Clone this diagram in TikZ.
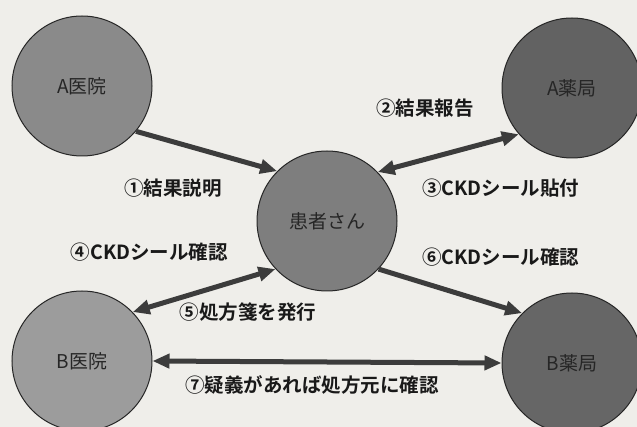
\documentclass[tikz,border=0pt]{standalone}
\usepackage{fontspec}
\setmainfont{Noto Sans CJK JP}
\newfontfamily\jpb{Noto Sans CJK JP Bold}
\usetikzlibrary{arrows.meta}
\definecolor{bgc}{HTML}{EFEEEA}
\definecolor{arrc}{HTML}{3C3C3C}
\definecolor{cAi}{HTML}{8A8A8A}
\definecolor{cAy}{HTML}{626262}
\definecolor{cPt}{HTML}{7E7E7E}
\definecolor{cBi}{HTML}{9C9C9C}
\definecolor{cBy}{HTML}{666666}
\tikzset{
  org/.style={circle,draw=black!85,line width=1pt,inner sep=0pt,minimum size=140pt,font=\fontsize{19}{19}\selectfont,text=black!85},
  conn/.style={draw=arrc,line width=5pt},
  tip/.style={-{Triangle[length=17pt,width=14pt]}},
  tips/.style={{Triangle[length=17pt,width=14pt]}-{Triangle[length=17pt,width=14pt]}},
  lab/.style={font=\jpb\fontsize{19.5}{19.5}\selectfont,text=black!90,inner sep=0pt}
}
\begin{document}
\begin{tikzpicture}[x=1pt,y=-1pt]
\fill[bgc] (0,0) rectangle (637,427);
\useasboundingbox (0,0) rectangle (637,427);
\node[org,fill=cAi] (ai) at (82,86) {A医院};
\node[org,fill=cAy] (ay) at (572,88) {A薬局};
\node[org,fill=cPt] (pt) at (327,221) {患者さん};
\node[org,fill=cBi] (bi) at (82,361) {B医院};
\node[org,fill=cBy] (by) at (572,363) {B薬局};
\draw[conn,tip] (ai.-40) -- (pt.135);
\draw[conn,tips] (pt.44) -- (ay.221);
\draw[conn,tips] (bi.44) -- (pt.223);
\draw[conn,tip] (pt.-43) -- (by.135);
\draw[conn,tips] (bi.east) -- (by.west);
\node[lab] (l1) at (173,188) {①結果説明};
\node[lab] (l2) at (425,108) {②結果報告};
\node[lab,anchor=west] (l3) at (422,188) {③CKDシール貼付};
\node[lab,anchor=east] (l4) at (228,252) {④CKDシール確認};
\node[lab,anchor=west] (l6) at (422,257) {⑥CKDシール確認};
\node[lab] (l5) at (248,312) {⑤処方箋を発行};
\node[lab] (l7) at (312,385) {⑦疑義があれば処方元に確認};
\end{tikzpicture}
\end{document}
